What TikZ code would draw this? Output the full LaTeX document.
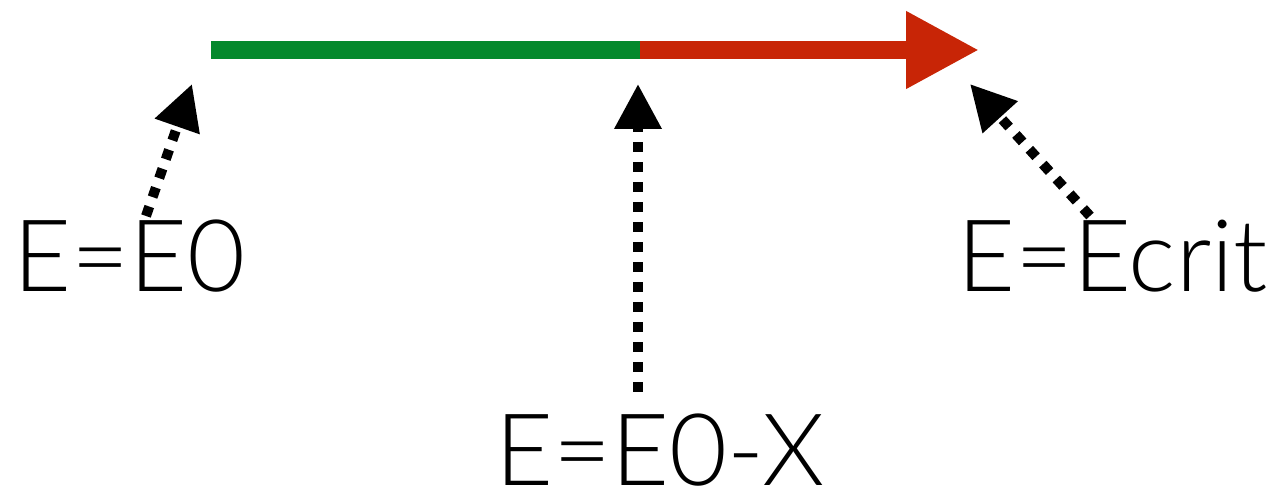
\documentclass[tikz,border=0pt]{standalone}
\usepackage{fontspec}
\setmainfont{Lato}[UprightFont=* Light]
\usetikzlibrary{arrows.meta}
\definecolor{okgreen}{RGB}{4,137,44}
\definecolor{badred}{RGB}{200,37,6}
\tikzset{
  px/.style={x=0.02cm,y=-0.02cm},
  label/.style={inner sep=0pt,text depth=0pt,anchor=base west,font=\fontsize{57}{62}\selectfont},
  dotarrow/.style={line width=5.7pt,dash pattern=on 5.7pt off 5.7pt,
    -{Triangle[length=25.6pt,width=25.6pt]}},
}
\begin{document}
\begin{tikzpicture}[px]
\useasboundingbox (0,0) rectangle (1282,499);
% timeline
\coordinate (start) at (211,50);
\coordinate (mid) at (640,50);
\coordinate (end) at (979,50);
\draw[okgreen,line width=9.7pt] (start) -- (mid);
\draw[badred,line width=9.7pt,-{Triangle[length=41.5pt,width=41.5pt]}] (mid) -- (end);
% labels
\node[label] (e0) at (13,292) {E=E0};
\node[label] (ex) at (495,486) {E=E0-X};
\node[label] (ec) at (957,292) {E=Ecrit};
% arrow points
\coordinate (t0) at (192,84);
\coordinate (s0) at (146,216);
\coordinate (tx) at (638,84);
\coordinate (sx) at (638,392);
\coordinate (tc) at (970,84);
\coordinate (sc) at (1090,216);
\draw[dotarrow] (s0) -- (t0);
\draw[dotarrow] (sx) -- (tx);
\draw[dotarrow] (sc) -- (tc);
\end{tikzpicture}
\end{document}
